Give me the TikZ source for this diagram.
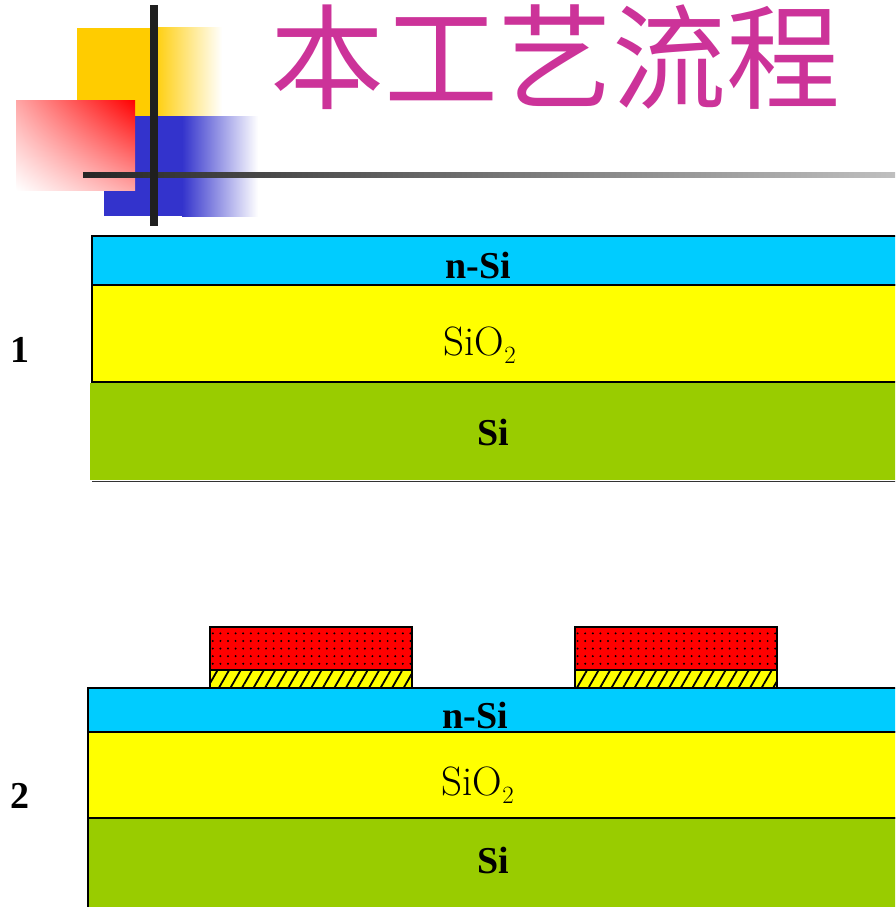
\documentclass[tikz,border=0pt]{standalone}
\usepackage{fontspec}
\newfontfamily\cjk{Noto Sans CJK SC}
\newfontfamily\tnr{Liberation Serif}
\usetikzlibrary{patterns.meta, shadings}

\definecolor{nsicolor}{HTML}{00CCFF}
\definecolor{oxcolor}{HTML}{FFFF00}
\definecolor{sicolor}{HTML}{99CC00}
\definecolor{titlecolor}{HTML}{CC3399}
\definecolor{logoyellow}{HTML}{FFCC00}
\definecolor{logoblue}{HTML}{3333CC}

\begin{document}
\begin{tikzpicture}[x=1pt, y=-1pt,
    layer/.style={draw, line width=1.6pt},
    boldlabel/.style={font=\tnr\bfseries\fontsize{38}{40}\selectfont},
    oxlabel/.style={font=\fontsize{41}{43}\selectfont},
    resist/.style={draw, line width=1.8pt, preaction={fill=red}, pattern={Dots[distance=7.6pt, radius=1.1pt]}},
    metal/.style={draw, line width=1.8pt, preaction={fill=oxcolor}, pattern={Lines[angle=60, distance=10pt, line width=1.8pt]}},
    ]

\useasboundingbox (0,0) rectangle (895,907);
\clip (0,0) rectangle (895,907);

% logo squares
\fill[logoyellow] (77,28) rectangle (152,116);
\shade[left color=logoyellow, right color=white] (152,28) rectangle (222,116);
\fill[logoblue] (104,116) rectangle (182,216);
\shade[left color=logoblue, right color=white] (182,116) rectangle (258,216);
\shade[upper right=red, lower left=white, upper left=red!35, lower right=red!35] (16,100) rectangle (135,190);
\shade[left color=black!85, right color=black!25] (83,172) rectangle (895,177);
\fill[black!88] (150,5) rectangle (158,226);

\node[font=\cjk\fontsize{114}{114}\selectfont, text=titlecolor, inner sep=0pt] (title) at (555,57) {本工艺流程};

% step 1: wafer
\draw[layer, fill=nsicolor] (92,236) rectangle (900,285);
\draw[layer, fill=oxcolor] (92,285) rectangle (900,382);
\fill[sicolor] (90,383) rectangle (900,480);
\draw[line width=1pt, black!80] (92,481) -- (900,481);

\node[boldlabel] (nsi1) at (478,265) {n-Si};
\node[oxlabel] (ox1) at (480,345) {SiO$_2$};
\node[boldlabel] (si1) at (493,432) {Si};
\node[boldlabel] (step1) at (20,350) {1};

% step 2: patterned stacks on top
\foreach \x in {210,575} {
    \draw[metal] (\x,670) rectangle ++(202,18);
    \draw[resist] (\x,627) rectangle ++(202,43);
}
\draw[layer, fill=nsicolor] (88,688) rectangle (900,732);
\draw[layer, fill=oxcolor] (88,732) rectangle (900,818);
\draw[layer, fill=sicolor] (88,818) rectangle (900,912);

\node[boldlabel] (nsi2) at (475,715) {n-Si};
\node[oxlabel] (ox2) at (478,785) {SiO$_2$};
\node[boldlabel] (si2) at (493,860) {Si};
\node[boldlabel] (step2) at (20,796) {2};

\end{tikzpicture}
\end{document}
